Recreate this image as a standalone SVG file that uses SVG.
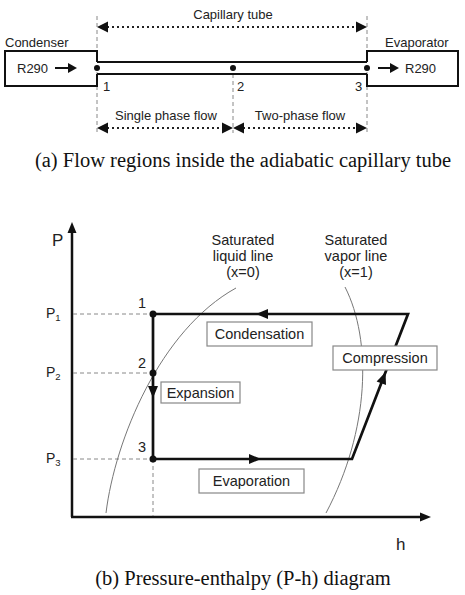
<svg xmlns="http://www.w3.org/2000/svg" width="465" height="595" viewBox="0 0 465 595">
<style>
.t{font-family:"Liberation Sans",Arial,sans-serif;fill:#222}
.s13{font-size:13px}
.s14{font-size:14.5px}
.cap{font-family:"Liberation Serif","Times New Roman",serif;font-size:20.5px;fill:#111}
.guide{stroke:#888;stroke-width:1;stroke-dasharray:4,3;fill:none}
.dot{stroke:#222;stroke-width:2;stroke-dasharray:2,3;fill:none}
.thick{stroke:#111;stroke-width:2.7;fill:none}
.box{fill:#fff;stroke:#888;stroke-width:1.2}
.curve{stroke:#777;stroke-width:1;fill:none}
</style>
<rect width="465" height="595" fill="#fff"/>
<g id="part-a">
  <g id="guides-a">
    <line class="guide" x1="97" y1="16" x2="97" y2="133"/>
    <line class="guide" x1="233" y1="74" x2="233" y2="133"/>
    <line class="guide" x1="367" y1="16" x2="367" y2="133"/>
  </g>
  <g id="capillary-dim">
    <text class="t s13" x="233" y="19" text-anchor="middle">Capillary tube</text>
    <line class="dot" x1="107" y1="27" x2="357" y2="27"/>
    <polygon points="97,27 108,21.5 108,32.5" fill="#111"/>
    <polygon points="367,27 356,21.5 356,32.5" fill="#111"/>
  </g>
  <g id="condenser">
    <path d="M97,62 V51 H5 V86 H97 V74" fill="none" stroke="#111" stroke-width="2"/>
    <text class="t s13" x="5" y="47">Condenser</text>
    <text class="t s13" x="17" y="73">R290</text>
    <line x1="55" y1="68" x2="70" y2="68" stroke="#111" stroke-width="2"/>
    <polygon points="77,68 68,63 68,73" fill="#111"/>
  </g>
  <g id="tube">
    <line x1="97" y1="62" x2="367" y2="62" stroke="#111" stroke-width="2"/>
    <line x1="97" y1="74" x2="367" y2="74" stroke="#111" stroke-width="2"/>
    <circle cx="97" cy="68" r="3" fill="#111"/>
    <circle cx="233" cy="68" r="3" fill="#111"/>
    <circle cx="367" cy="68" r="3" fill="#111"/>
    <text class="t s13" x="103" y="91">1</text>
    <text class="t s13" x="237" y="91">2</text>
    <text class="t s13" x="355" y="91">3</text>
  </g>
  <g id="evaporator">
    <path d="M367,62 V51 H458 V86 H367 V74" fill="none" stroke="#111" stroke-width="2"/>
    <text class="t s13" x="385" y="47">Evaporator</text>
    <line x1="378" y1="68" x2="392" y2="68" stroke="#111" stroke-width="2"/>
    <polygon points="399,68 390,63 390,73" fill="#111"/>
    <text class="t s13" x="405" y="73">R290</text>
  </g>
  <g id="flow-dims">
    <text class="t s13" x="166" y="120" text-anchor="middle">Single phase flow</text>
    <text class="t s13" x="300" y="120" text-anchor="middle">Two-phase flow</text>
    <line class="dot" x1="107" y1="128" x2="223" y2="128"/>
    <line class="dot" x1="243" y1="128" x2="357" y2="128"/>
    <polygon points="97,128 108,122.5 108,133.5" fill="#111"/>
    <polygon points="233,128 222,122.5 222,133.5" fill="#111"/>
    <polygon points="233,128 244,122.5 244,133.5" fill="#111"/>
    <polygon points="367,128 356,122.5 356,133.5" fill="#111"/>
  </g>
  <text class="cap" x="243" y="167" text-anchor="middle">(a) Flow regions inside the adiabatic capillary tube</text>
</g>
<g id="part-b">
  <g id="axes">
    <line x1="72" y1="230" x2="72" y2="517" stroke="#111" stroke-width="2.5"/>
    <polygon points="72,222 67.5,233 76.5,233" fill="#111"/>
    <line x1="71" y1="517" x2="422" y2="517" stroke="#111" stroke-width="2.5"/>
    <polygon points="431,517 420,512.5 420,521.5" fill="#111"/>
    <text class="t" x="52" y="246" style="font-size:17px">P</text>
    <text class="t" x="396" y="550" style="font-size:17px">h</text>
  </g>
  <g id="pressure-guides">
    <line class="guide" x1="73" y1="314" x2="153" y2="314"/>
    <line class="guide" x1="73" y1="373" x2="153" y2="373"/>
    <line class="guide" x1="73" y1="459" x2="153" y2="459"/>
    <line class="guide" x1="153" y1="459" x2="153" y2="516"/>
    <text class="t" x="46" y="318" style="font-size:14px">P<tspan style="font-size:9.5px" dy="3">1</tspan></text>
    <text class="t" x="46" y="377" style="font-size:14px">P<tspan style="font-size:9.5px" dy="3">2</tspan></text>
    <text class="t" x="46" y="463" style="font-size:14px">P<tspan style="font-size:9.5px" dy="3">3</tspan></text>
  </g>
  <g id="saturation-lines">
    <path class="curve" d="M106,513 C115,440 160,330 236,288"/>
    <path class="curve" d="M345,287 C372,340 370,430 326,513"/>
    <text class="t s14" x="243" y="245" text-anchor="middle">Saturated</text>
    <text class="t s14" x="243" y="261" text-anchor="middle">liquid line</text>
    <text class="t s14" x="243" y="277" text-anchor="middle">(x=0)</text>
    <text class="t s14" x="356" y="245" text-anchor="middle">Saturated</text>
    <text class="t s14" x="356" y="261" text-anchor="middle">vapor line</text>
    <text class="t s14" x="356" y="277" text-anchor="middle">(x=1)</text>
  </g>
  <g id="cycle">
    <path class="thick" d="M153,314 H408 L352,459 H153 Z" stroke-linejoin="miter"/>
    <polygon points="256,314 268,309 268,319" fill="#111"/>
    <polygon points="153,398 148,386 158,386" fill="#111"/>
    <polygon points="261,459 249,454 249,464" fill="#111"/>
    <polygon points="385.6,372 386,385 376.6,381.4" fill="#111"/>
    <circle cx="153" cy="314" r="3.5" fill="#111"/>
    <circle cx="153" cy="373" r="3.5" fill="#111"/>
    <circle cx="153" cy="459" r="3.5" fill="#111"/>
    <text class="t s14" x="138" y="308">1</text>
    <text class="t s14" x="138" y="368">2</text>
    <text class="t s14" x="138" y="452">3</text>
  </g>
  <g id="condensation">
    <rect class="box" x="207" y="322" width="105" height="24"/>
    <text class="t s14" x="259.5" y="339" text-anchor="middle">Condensation</text>
  </g>
  <g id="expansion">
    <rect class="box" x="161" y="382" width="79" height="21"/>
    <text class="t s14" x="200.5" y="397.5" text-anchor="middle">Expansion</text>
  </g>
  <g id="compression">
    <rect class="box" x="333" y="346" width="104" height="24"/>
    <text class="t s14" x="385" y="363" text-anchor="middle">Compression</text>
  </g>
  <g id="evaporation">
    <rect class="box" x="199" y="469" width="105" height="24"/>
    <text class="t s14" x="251.5" y="486" text-anchor="middle">Evaporation</text>
  </g>
  <text class="cap" x="243" y="585" text-anchor="middle">(b) Pressure-enthalpy (P-h) diagram</text>
</g>
</svg>
